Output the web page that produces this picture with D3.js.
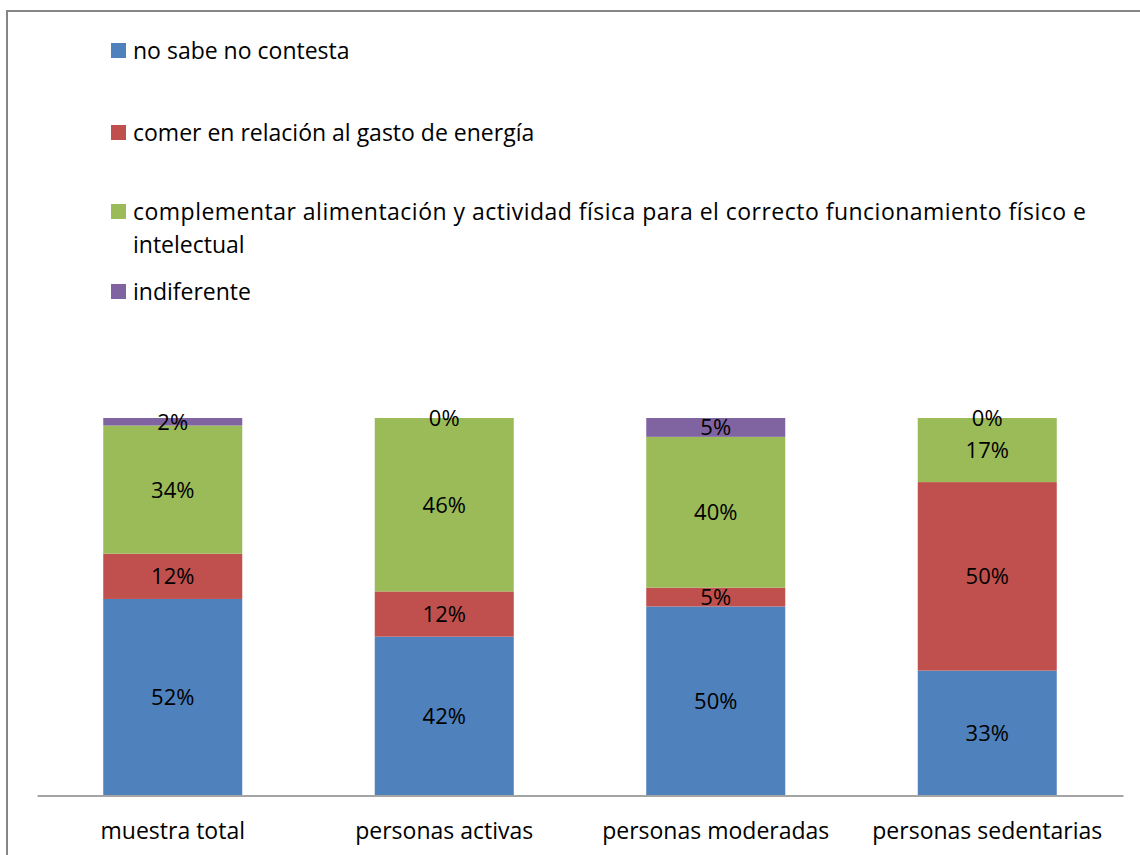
<!DOCTYPE html>
<html><head><meta charset="utf-8">
<script src="https://cdn.jsdelivr.net/npm/d3@7"></script>
<style>body{margin:0;background:#fff}svg{display:block}</style>
</head><body><svg id="c" width="1140" height="855"></svg>
<script>
const categories = ["muestra total","personas activas","personas moderadas","personas sedentarias"];
const seriesNames = ["no sabe no contesta","comer en relación al gasto de energía","complementar alimentación y actividad física para el correcto funcionamiento físico e intelectual","indiferente"];
const legendLines = [["no sabe no contesta"],["comer en relación al gasto de energía"],["complementar alimentación y actividad física para el correcto funcionamiento físico e","intelectual"],["indiferente"]];
const noSabe = [52,42,50,33];
const comer = [12,12,5,50];
const complementar = [34,46,40,17];
const indiferente = [2,0,5,0];
const colors = ["#4F81BD","#C0504D","#9BBB59","#8064A2"];

const font = "Open Sans, sans-serif";
const fs = 23;
const fsLab = 22;
const svg = d3.select("#c");
svg.append("rect").attr("x",7).attr("y",11).attr("width",1200).attr("height",900)
  .attr("fill","#fff").attr("stroke","#868686").attr("stroke-width",2);

const rows = categories.map((c,i)=>({cat:c, s0:noSabe[i], s1:comer[i], s2:complementar[i], s3:indiferente[i]}));
const keys = ["s0","s1","s2","s3"];
const stack = d3.stack().keys(keys).offset(d3.stackOffsetExpand)(rows);

const x = d3.scaleBand().domain(categories).range([37,1123]).paddingInner(0.488).paddingOuter(0.244);
const y = d3.scaleLinear().domain([0,1]).range([795,418]);

stack.forEach((layer,li)=>{
  const g = svg.append("g");
  g.selectAll("rect").data(layer).join("rect")
    .attr("x",d=>x(d.data.cat)).attr("width",x.bandwidth())
    .attr("y",d=>y(d[1])).attr("height",d=>y(d[0])-y(d[1]))
    .attr("fill",colors[li]);
});
stack.forEach((layer,li)=>{
  svg.append("g").selectAll("text").data(layer).join("text")
    .attr("x",d=>x(d.data.cat)+x.bandwidth()/2)
    .attr("y",d=>(y(d[0])+y(d[1]))/2)
    .attr("dy","0.36em")
    .attr("text-anchor","middle")
    .attr("font-family",font).attr("font-size",fsLab).attr("fill","#000")
    .text(d=>d.data[layer.key]+"%");
});

const ax = svg.append("g").attr("transform","translate(0,795.5)")
  .call(d3.axisBottom(x).tickSize(0).tickPadding(27));
ax.select(".domain").attr("stroke","#868686").attr("stroke-width",1.5);
ax.selectAll("text").attr("font-family",font).attr("font-size",fs).attr("fill","#000");

const legY = [59,141,220,300];
legendLines.forEach((lines,i)=>{
  svg.append("rect").attr("x",111).attr("y",legY[i]-16).attr("width",15).attr("height",15).attr("fill",colors[i]);
  lines.forEach((t,j)=>{
    const tx = svg.append("text").attr("x",133).attr("y",legY[i]+j*33)
      .attr("font-family",font).attr("font-size",fs).attr("fill","#000").text(t);
    if (lines.length > 1 && j === 0) tx.attr("textLength",953).attr("lengthAdjust","spacing");
  });
});
</script></body></html>
